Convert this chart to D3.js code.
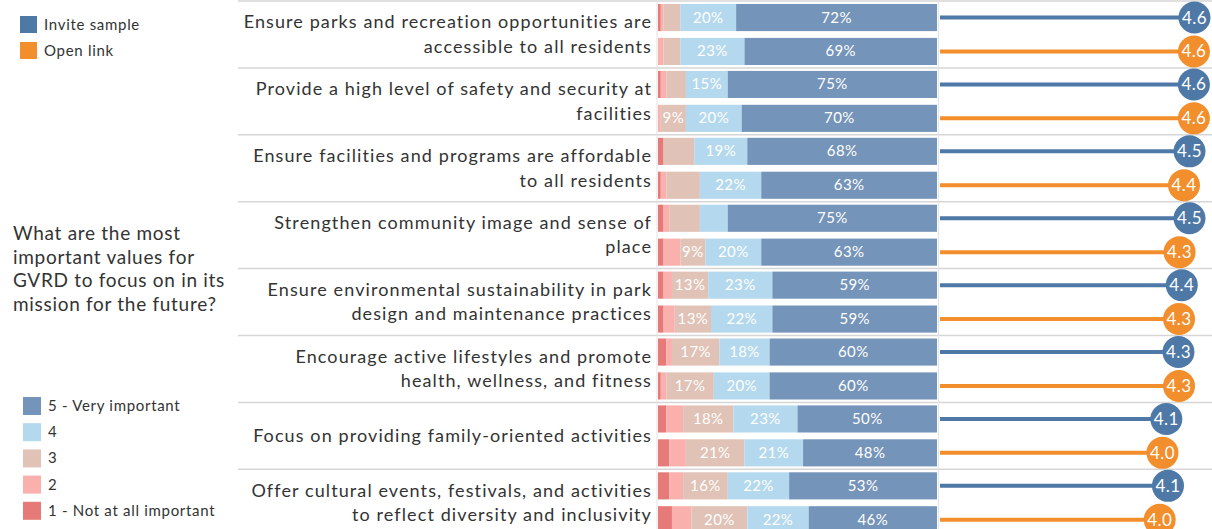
<!DOCTYPE html>
<html>
<head>
<meta charset="utf-8">
<script src="https://cdn.jsdelivr.net/npm/d3@7"></script>
<style>
  body { margin: 0; background: #fff; }
  svg { display: block; font-family: Lato, "Open Sans", sans-serif; }
</style>
</head>
<body>
<div id="chart"></div>
<script>
// Data
const questions = [
  "Ensure parks and recreation opportunities are\naccessible to all residents",
  "Provide a high level of safety and security at\nfacilities",
  "Ensure facilities and programs are affordable\nto all residents",
  "Strengthen community image and sense of\nplace",
  "Ensure environmental sustainability in park\ndesign and maintenance practices",
  "Encourage active lifestyles and promote\nhealth, wellness, and fitness",
  "Focus on providing family-oriented activities",
  "Offer cultural events, festivals, and activities\nto reflect diversity and inclusivity"
];
const samples = ["Invite sample", "Open link"];
const levels = ["1 - Not at all important", "2", "3", "4", "5 - Very important"];

// % answering 1..5, per question
const inviteDist = [
  [1, 1, 6, 20, 72],
  [1, 2, 7, 15, 75],
  [2, 0, 11, 19, 68],
  [2, 2, 11, 10, 75],
  [2, 3, 13, 23, 59],
  [3, 2, 17, 18, 60],
  [3, 6, 18, 23, 50],
  [4, 5, 16, 22, 53]
];
const openDist = [
  [0, 2, 6, 23, 69],
  [0, 1, 9, 20, 70],
  [1, 2, 12, 22, 63],
  [2, 6, 9, 20, 63],
  [2, 4, 13, 22, 59],
  [1, 2, 17, 20, 60],
  [4, 6, 21, 21, 48],
  [5, 7, 20, 22, 46]
];
// mean score (1-5)
const inviteMean = [4.61, 4.60, 4.52, 4.52, 4.38, 4.32, 4.10, 4.13];
const openMean = [4.60, 4.60, 4.42, 4.34, 4.33, 4.33, 4.03, 3.98];

// segment labels the reference leaves out: [question, sample, level]
const unlabeled = [[2, 0, 2], [2, 1, 2], [3, 0, 2], [3, 0, 3]];

const W = 1212, H = 529;
const levelColor = ["#e57a78", "#fab0ad", "#e0c2b6", "#b4d8ed", "#7594b9"];
const sampleColor = ["#4e79a7", "#f28e2b"];
const textColor = "#333";

const svg = d3.select("#chart").append("svg")
  .attr("width", W)
  .attr("height", H);

// scales
const yGroup = d3.scaleBand()
  .domain(d3.range(questions.length))
  .range([1, 1 + questions.length * 66.9]);
const ySub = d3.scaleBand()
  .domain(samples)
  .range([3, 64])
  .paddingInner(0.2);
const xBar = d3.scaleLinear().domain([0, 100]).range([658, 937]);
const xMean = d3.scaleLinear().domain([0, 5]).range([940, 1216]);

// grid lines
svg.append("g")
  .selectAll("line")
  .data(d3.range(questions.length + 1))
  .join("line")
    .attr("x1", 238).attr("x2", W)
    .attr("y1", d => yGroup(0) + d * yGroup.step())
    .attr("y2", d => yGroup(0) + d * yGroup.step())
    .attr("stroke", "#d6d6d6")
    .attr("stroke-width", 1.5);

svg.append("g")
  .selectAll("line")
  .data([657, 938.5])
  .join("line")
    .attr("x1", d => d).attr("x2", d => d)
    .attr("y1", 1).attr("y2", H)
    .attr("stroke", "#e3e3e3");

// rows
const rows = [];
questions.forEach((q, i) => {
  rows.push({ q: i, s: 0, dist: inviteDist[i], mean: inviteMean[i] });
  rows.push({ q: i, s: 1, dist: openDist[i], mean: openMean[i] });
});

const rowG = svg.append("g")
  .selectAll("g")
  .data(rows)
  .join("g")
    .attr("transform", d => `translate(0,${yGroup(d.q) + ySub(samples[d.s])})`);

const segs = rowG.selectAll("g.seg")
  .data(d => {
    let acc = 0;
    return d.dist.map((v, k) => {
      const s = { q: d.q, s: d.s, k, v, x0: acc, x1: acc + v };
      acc += v;
      return s;
    });
  })
  .join("g")
    .attr("class", "seg");

segs.append("rect")
  .attr("x", d => xBar(d.x0))
  .attr("width", d => xBar(d.x1) - xBar(d.x0))
  .attr("height", ySub.bandwidth())
  .attr("fill", d => levelColor[d.k]);

segs.filter(d => d.v >= 9 && !unlabeled.some(u => u[0] === d.q && u[1] === d.s && u[2] === d.k))
  .append("text")
    .attr("x", d => (xBar(d.x0) + xBar(d.x1)) / 2)
    .attr("y", ySub.bandwidth() / 2 + 5)
    .attr("text-anchor", "middle")
    .attr("fill", "#fff")
    .attr("font-size", 15)
    .attr("letter-spacing", 0.4)
    .text(d => d.v + "%");

// lollipops
rowG.append("line")
  .attr("x1", xMean(0))
  .attr("x2", d => xMean(d.mean))
  .attr("y1", ySub.bandwidth() / 2)
  .attr("y2", ySub.bandwidth() / 2)
  .attr("stroke", d => sampleColor[d.s])
  .attr("stroke-width", 4);

rowG.append("circle")
  .attr("cx", d => xMean(d.mean))
  .attr("cy", ySub.bandwidth() / 2)
  .attr("r", 16)
  .attr("fill", d => sampleColor[d.s]);

rowG.append("text")
  .attr("x", d => xMean(d.mean))
  .attr("y", ySub.bandwidth() / 2 + 6)
  .attr("text-anchor", "middle")
  .attr("fill", "#fff")
  .attr("font-size", 17)
  .attr("letter-spacing", 0.4)
  .text(d => d3.format(".1f")(d.mean));

// question labels
svg.append("g")
  .selectAll("text")
  .data(questions)
  .join("text")
    .attr("text-anchor", "end")
    .attr("fill", textColor)
    .attr("font-size", 18)
    .attr("letter-spacing", 1.1)
    .each(function(d, i) {
      const lines = d.split("\n");
      const cy = yGroup(i) + yGroup.bandwidth() / 2;
      d3.select(this).selectAll("tspan")
        .data(lines)
        .join("tspan")
          .attr("x", 652)
          .attr("y", (l, j) => cy + (j - (lines.length - 1) / 2) * 24.5 + 6)
          .text(l => l);
    });

// sample legend
const legTop = svg.append("g").attr("transform", "translate(20,16)");
legTop.selectAll("rect")
  .data(samples)
  .join("rect")
    .attr("x", 0)
    .attr("y", (d, i) => i * 26)
    .attr("width", 17).attr("height", 17)
    .attr("fill", (d, i) => sampleColor[i]);
legTop.selectAll("text")
  .data(samples)
  .join("text")
    .attr("x", 24)
    .attr("y", (d, i) => i * 26 + 14)
    .attr("fill", textColor)
    .attr("font-size", 15)
    .attr("letter-spacing", 0.7)
    .text(d => d);

// question text
svg.append("text")
  .attr("fill", textColor)
  .attr("font-size", 19)
  .attr("letter-spacing", 0.7)
  .selectAll("tspan")
  .data(["What are the most", "important values for", "GVRD to focus on in its", "mission for the future?"])
  .join("tspan")
    .attr("x", 13)
    .attr("y", (d, i) => 240 + i * 23.5)
    .text(d => d);

// level legend (5 at top)
const legLev = svg.append("g").attr("transform", "translate(23,397)");
const levelsDesc = levels.slice().reverse();
legLev.selectAll("rect")
  .data(levelsDesc)
  .join("rect")
    .attr("x", 0)
    .attr("y", (d, i) => i * 26.2)
    .attr("width", 18).attr("height", 18)
    .attr("fill", (d, i) => levelColor[4 - i]);
legLev.selectAll("text")
  .data(levelsDesc)
  .join("text")
    .attr("x", 25)
    .attr("y", (d, i) => i * 26.2 + 14)
    .attr("fill", textColor)
    .attr("font-size", 15)
    .attr("letter-spacing", 0.7)
    .text(d => d);
</script>
</body>
</html>
